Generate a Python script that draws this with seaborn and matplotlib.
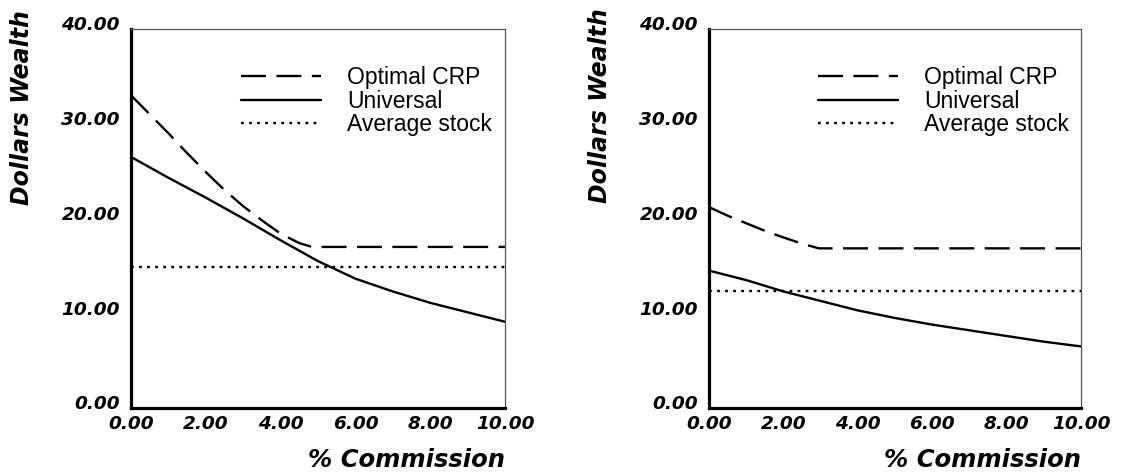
import numpy as np
import pandas as pd
import matplotlib
matplotlib.use("Agg")
import matplotlib.pyplot as plt
import matplotlib.transforms as mtransforms
from matplotlib.ticker import FormatStrFormatter
import seaborn as sns

# ---- data: wealth vs. commission, two stock pairs ----
series_names = ["Optimal CRP", "Universal", "Average stock"]

# left panel
left_crp_x = [0.0, 0.5, 1.0, 1.5, 2.0, 2.5, 3.0, 3.5, 4.0, 4.5, 4.8, 5.0, 10.0]
left_crp_y = [33.0, 31.0, 29.0, 26.9, 24.9, 23.0, 21.3, 19.8, 18.4, 17.4, 17.05, 17.0, 17.0]
left_univ_x = [0.0, 1.0, 2.0, 3.0, 4.0, 5.0, 6.0, 7.0, 8.0, 9.0, 10.0]
left_univ_y = [26.5, 24.3, 22.2, 20.0, 17.7, 15.5, 13.65, 12.3, 11.1, 10.1, 9.1]
left_avg_x = [0.0, 10.0]
left_avg_y = [14.9, 14.9]

# right panel
right_crp_x = [0.0, 0.5, 1.0, 1.5, 2.0, 2.5, 2.95, 10.0]
right_crp_y = [21.2, 20.3, 19.5, 18.7, 18.0, 17.35, 16.85, 16.85]
right_univ_x = [0.0, 1.0, 2.0, 3.0, 4.0, 5.0, 6.0, 7.0, 8.0, 9.0, 10.0]
right_univ_y = [14.5, 13.5, 12.3, 11.3, 10.3, 9.5, 8.8, 8.2, 7.6, 7.0, 6.5]
right_avg_x = [0.0, 10.0]
right_avg_y = [12.4, 12.4]

x_ticks = [0, 2, 4, 6, 8, 10]
y_ticks = [0, 10, 20, 30, 40]
x_label = "% Commission"
y_label = "Dollars Wealth"


def long_frame(crp_x, crp_y, univ_x, univ_y, avg_x, avg_y):
    parts = []
    for name, xs, ys in zip(series_names,
                            [crp_x, univ_x, avg_x],
                            [crp_y, univ_y, avg_y]):
        parts.append(pd.DataFrame({"commission": xs, "wealth": ys, "series": name}))
    return pd.concat(parts, ignore_index=True)


sns.set_style("white")
plt.rcParams["font.family"] = ["DejaVu Sans"]
plt.rcParams["lines.scale_dashes"] = False
plt.rcParams["text.color"] = "black"
plt.rcParams["axes.labelcolor"] = "black"
plt.rcParams["xtick.color"] = "black"
plt.rcParams["ytick.color"] = "black"

fig = plt.figure(figsize=(11.23, 4.74), dpi=100)
W, H = 1123, 474
ax_left = fig.add_axes([131 / W, (H - 408) / H, 374 / W, 379 / H])
ax_right = fig.add_axes([709 / W, (H - 408) / H, 372 / W, 379 / H])

dash_styles = {"Optimal CRP": (18, 7.5), "Universal": "", "Average stock": (2.0, 3.8)}

frames = [
    long_frame(left_crp_x, left_crp_y, left_univ_x, left_univ_y, left_avg_x, left_avg_y),
    long_frame(right_crp_x, right_crp_y, right_univ_x, right_univ_y, right_avg_x, right_avg_y),
]

tick_font = dict(family="DejaVu Sans", weight="bold", style="italic", size=13.3)

for ax, df in zip([ax_left, ax_right], frames):
    sns.lineplot(data=df, x="commission", y="wealth", style="series",
                 style_order=series_names, dashes=dash_styles,
                 color="black", linewidth=1.7, ax=ax, legend=True)

    ax.set_xlim(0, 10)
    ax.set_ylim(0, 40)
    ax.set_xticks(x_ticks)
    ax.set_yticks(y_ticks)
    ax.xaxis.set_major_formatter(FormatStrFormatter("%.2f"))
    ax.yaxis.set_major_formatter(FormatStrFormatter("%.2f"))
    ax.tick_params(axis="both", length=0, labelcolor="black")
    ax.tick_params(axis="y", pad=8)
    ax.tick_params(axis="x", pad=5)
    for lab in ax.get_xticklabels() + ax.get_yticklabels():
        lab.set_fontproperties(matplotlib.font_manager.FontProperties(**tick_font))
    # y tick labels sit slightly above their gridline value
    shift = mtransforms.ScaledTranslation(0, 4 / 72, fig.dpi_scale_trans)
    for lab in ax.get_yticklabels():
        lab.set_transform(lab.get_transform() + shift)

    for side in ["left", "bottom"]:
        ax.spines[side].set_linewidth(2.3)
        ax.spines[side].set_color("black")
    for side in ["top", "right"]:
        ax.spines[side].set_linewidth(0.9)
        ax.spines[side].set_color("#555555")

    ax.set_xlabel(x_label, fontsize=17.5, fontweight="bold", fontstyle="italic",
                  ha="right", color="black")
    ax.xaxis.set_label_coords(1.0, -0.105)
    ax.set_ylabel(y_label, fontsize=17, fontweight="bold", fontstyle="italic",
                  ha="right", va="center", color="black")

    handles, labels = ax.get_legend_handles_labels()
    leg = ax.legend(handles=handles, labels=labels, loc="upper left",
                    bbox_to_anchor=(0.294, 0.9015), frameon=False,
                    prop=dict(family="Liberation Sans", size=16.5),
                    handlelength=3.48, handletextpad=1.15, labelspacing=0.01,
                    borderpad=0, borderaxespad=0)
    for t in leg.get_texts():
        t.set_color("black")

# y labels placed near the top of the figure, left of tick labels
ax_left.yaxis.set_label_coords(-109 / 374, (408 - 10) / 379)
ax_right.yaxis.set_label_coords(-(709 - 600) / 372, (408 - 8) / 379)

fig.savefig("out.png", dpi=100, facecolor="white")
